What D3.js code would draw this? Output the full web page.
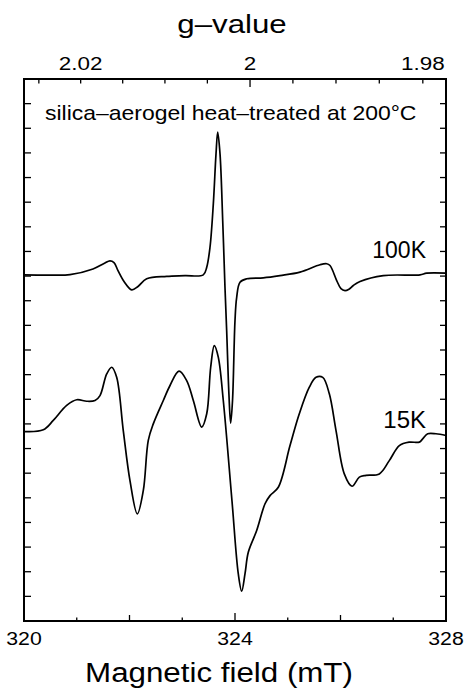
<!DOCTYPE html>
<html>
<head>
<meta charset="utf-8">
<script src="https://d3js.org/d3.v7.min.js"></script>
<style>
  body { margin: 0; background: #fff; }
  svg { display: block; font-family: "Liberation Sans", Arial, Helvetica, sans-serif; }
</style>
</head>
<body>
<div id="chart"></div>
<script>
// EPR spectra of heat-treated silica aerogel, field in mT, signal in arb. units (one unit = one left tick)

// 100K trace
var field100 = [320.000, 320.493, 320.872, 321.308, 321.517, 321.630, 321.706, 321.782, 321.896, 322.042,
  322.161, 322.326, 322.705, 323.052, 323.399, 323.464, 323.526, 323.589, 323.640, 323.672,
  323.716, 323.767, 323.810, 323.842, 323.886, 323.918, 323.953, 324.000, 324.032, 324.095,
  324.222, 324.536, 324.853, 325.232, 325.611, 325.738, 325.801, 325.928, 326.009, 326.085,
  326.161, 326.243, 326.370, 326.811, 327.507, 327.634, 328.000];
var signal100 = [14.05, 14.04, 14.06, 14.29, 14.51, 14.62, 14.55, 14.22, 13.78, 13.44,
  13.58, 13.89, 13.99, 14.02, 14.05, 14.36, 15.17, 16.93, 18.96, 19.84,
  18.96, 16.25, 13.55, 11.79, 9.15, 8.03, 8.95, 12.20, 13.14, 13.75,
  13.89, 13.93, 14.02, 14.16, 14.46, 14.50, 14.43, 13.82, 13.49, 13.41,
  13.47, 13.62, 13.78, 14.02, 14.05, 14.12, 14.12];

// 15K trace
var field15 = [320.000, 320.366, 320.555, 320.809, 321.000, 321.189, 321.346, 321.441, 321.568, 321.663,
  321.757, 321.882, 322.009, 322.148, 322.262, 322.356, 322.451, 322.641, 322.768, 322.938,
  323.084, 323.210, 323.369, 323.464, 323.539, 323.608, 323.683, 323.778, 323.943, 324.062,
  324.127, 324.190, 324.252, 324.411, 324.569, 324.664, 324.821, 325.043, 325.219, 325.409,
  325.536, 325.663, 325.788, 325.915, 326.072, 326.218, 326.357, 326.483, 326.736, 326.925,
  327.115, 327.304, 327.494, 327.558, 327.653, 327.810, 328.000];
var signal15 = [7.69, 7.76, 8.14, 8.75, 8.98, 8.92, 8.95, 9.15, 10.03, 10.30,
  9.89, 7.73, 5.70, 4.35, 5.30, 7.33, 8.00, 8.95, 9.56, 10.14,
  9.76, 8.95, 7.87, 8.41, 10.30, 11.18, 10.71, 8.95, 4.87, 1.92,
  1.21, 1.92, 2.79, 3.67, 4.76, 5.09, 5.43, 7.12, 8.41, 9.49,
  9.89, 9.89, 9.22, 7.73, 5.97, 5.47, 5.84, 5.91, 5.97, 6.51,
  7.12, 7.26, 7.26, 7.39, 7.60, 7.60, 7.53];

// axes
var fieldTicks = [320, 321, 322, 323, 324, 325, 326, 327, 328];
var fieldLabels = [320, 324, 328];
var gTicks = [2.025, 2.02, 2.015, 2.01, 2.005, 2.0, 1.995, 1.99, 1.985, 1.98];
var gLabels = [2.02, 2.0, 1.98];
var gB = 648.57; // g * B (mT) for the microwave frequency used
var signalTicks = d3.range(1, 22);

var width = 466, height = 693;
var margin = { top: 79, right: 20, bottom: 72, left: 24 };

var svg = d3.select('#chart').append('svg')
  .attr('width', width)
  .attr('height', height);

var x = d3.scaleLinear().domain([320, 328]).range([margin.left, width - margin.right]);
var y = d3.scaleLinear().domain([0, 22]).range([height - margin.bottom, margin.top]);

var x0 = x.range()[0], x1 = x.range()[1];
var y0 = y.range()[0], y1 = y.range()[1];

// the original lettering is a bit wider than Liberation Sans: stretch horizontally about the anchor
function stretch(sel, sx) {
  sel.attr('transform', function() {
    var ax = +this.getAttribute('x');
    return 'translate(' + ax + ',0) scale(' + sx + ',1) translate(' + (-ax) + ',0)';
  });
}

// --- ticks ---
var ticks = svg.append('g').attr('stroke', '#000').attr('stroke-width', 1.3);

// bottom (inward)
ticks.selectAll('.bt').data(fieldTicks).join('line')
  .attr('x1', function(d) { return x(d); })
  .attr('x2', function(d) { return x(d); })
  .attr('y1', y0)
  .attr('y2', function(d) { return y0 - (d === 324 ? 8 : d % 2 === 0 ? 6 : 3.5); });

// top g-value ticks (inward)
ticks.selectAll('.tt').data(gTicks).join('line')
  .attr('x1', function(d) { return x(gB / d); })
  .attr('x2', function(d) { return x(gB / d); })
  .attr('y1', y1)
  .attr('y2', function(d) { return y1 + (Math.abs(d - 2) < 1e-9 ? 8 : 4.5); });

// left and right
ticks.selectAll('.lt').data(signalTicks).join('line')
  .attr('x1', x0).attr('x2', x0 + 7)
  .attr('y1', function(d) { return y(d); })
  .attr('y2', function(d) { return y(d); });
ticks.selectAll('.rt').data(signalTicks).join('line')
  .attr('x1', x1).attr('x2', x1 - 6)
  .attr('y1', function(d) { return y(d); })
  .attr('y2', function(d) { return y(d); });

// frame
svg.append('rect')
  .attr('x', x0).attr('y', y1)
  .attr('width', x1 - x0).attr('height', y0 - y1)
  .attr('fill', 'none').attr('stroke', '#000').attr('stroke-width', 2);

// --- traces ---
var line = d3.line()
  .x(function(d) { return x(d[0]); })
  .y(function(d) { return y(d[1]); })
  .curve(d3.curveCatmullRom.alpha(0.5));

svg.append('path')
  .datum(d3.zip(field100, signal100))
  .attr('d', line)
  .attr('fill', 'none').attr('stroke', '#000').attr('stroke-width', 1.7)
  .attr('stroke-linejoin', 'round');

svg.append('path')
  .datum(d3.zip(field15, signal15))
  .attr('d', line)
  .attr('fill', 'none').attr('stroke', '#000').attr('stroke-width', 1.7)
  .attr('stroke-linejoin', 'round');

// --- labels ---
svg.selectAll('.bl').data(fieldLabels).join('text')
  .attr('x', function(d) { return x(d); })
  .attr('y', 645)
  .attr('text-anchor', 'middle')
  .attr('font-size', 19)
  .text(function(d) { return d; })
  .call(stretch, 1.12);

svg.selectAll('.tl').data(gLabels).join('text')
  .attr('x', function(d) { return x(gB / d); })
  .attr('y', 70)
  .attr('text-anchor', 'middle')
  .attr('font-size', 19)
  .text(function(d) { return d === 2 ? '2' : d.toFixed(2); })
  .call(stretch, 1.18);

svg.append('text')
  .attr('x', 232).attr('y', 33)
  .attr('text-anchor', 'middle')
  .attr('font-size', 25)
  .text('g\u2013value')
  .call(stretch, 1.25);

svg.append('text')
  .attr('x', 219).attr('y', 682)
  .attr('text-anchor', 'middle')
  .attr('font-size', 27)
  .text('Magnetic field (mT)')
  .call(stretch, 1.16);

svg.append('text')
  .attr('x', 45).attr('y', 120.5)
  .attr('font-size', 20.5)
  .text('silica\u2013aerogel heat\u2013treated at 200\u00b0C')
  .call(stretch, 1.12);

svg.append('text')
  .attr('x', 426).attr('y', 258)
  .attr('text-anchor', 'end')
  .attr('font-size', 23)
  .text('100K');

svg.append('text')
  .attr('x', 426).attr('y', 428)
  .attr('text-anchor', 'end')
  .attr('font-size', 24)
  .text('15K');
</script>
</body>
</html>
